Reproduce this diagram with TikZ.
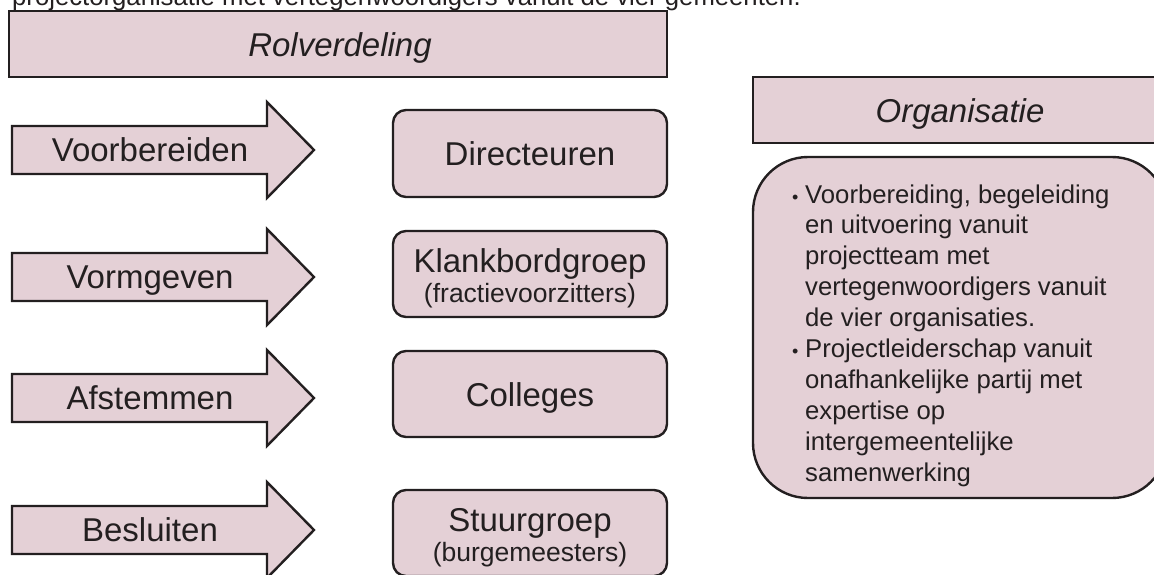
\documentclass[tikz,border=0pt]{standalone}
\usepackage{fontspec}
\setmainfont{Liberation Sans}
\definecolor{rose}{RGB}{228,208,214}
\definecolor{edge}{RGB}{35,31,32}
\definecolor{ink}{RGB}{35,31,32}

% role arrow: #1 name, #2 centre y, #3 label
\newcommand{\rolearrow}[3]{%
  \path[shape box] (12,{#2-24}) -- (267,{#2-24}) -- (267,{#2-48}) -- (314,#2)
     -- (267,{#2+48}) -- (267,{#2+24}) -- (12,{#2+24}) -- cycle;
  \node[biglbl] (#1) at (150,{#2+11.5}) {#3};
}

\begin{document}
\begin{tikzpicture}[x=1pt,y=-1pt,
  shape box/.style={draw=edge, line width=2.4pt, fill=rose, line join=miter},
  rolebox/.style={draw=edge, line width=2.4pt, fill=rose, rounded corners=13pt},
  biglbl/.style={anchor=base, inner sep=0pt, text=ink, font=\fontsize{33}{36}\selectfont},
  sublbl/.style={anchor=base, inner sep=0pt, text=ink, font=\fontsize{26.5}{29}\selectfont},
  headlbl/.style={anchor=base, inner sep=0pt, text=ink, font=\fontsize{33}{36}\selectfont\itshape},
  bodylbl/.style={anchor=base west, inner sep=0pt, text=ink, font=\fontsize{25.7}{30}\selectfont},
  bullet/.style={anchor=base west, inner sep=0pt, text=ink, font=\fontsize{18}{20}\selectfont}]
\useasboundingbox (0,0) rectangle (1154,574);
\clip (0,0) rectangle (1154,574);

% running text line above the figure
\node[bodylbl] (intro) at (12,5) {projectorganisatie met vertegenwoordigers vanuit de vier gemeenten.};

% left column header
\path[shape box] (9,11) rectangle (667,77);
\node[headlbl] (rolhead) at (340,56) {Rolverdeling};

% process arrows
\rolearrow{voorb}{150}{Voorbereiden}
\rolearrow{vorm}{277}{Vormgeven}
\rolearrow{afst}{398}{Afstemmen}
\rolearrow{besl}{530}{Besluiten}

% bodies
\path[rolebox] (393,110) rectangle (667,197);
\node[biglbl] (dir) at (530,165.5) {Directeuren};

\path[rolebox] (393,231) rectangle (667,317);
\node[biglbl] (klank) at (530,272) {Klankbordgroep};
\node[sublbl] (klanksub) at (530,302) {(fractievoorzitters)};

\path[rolebox] (393,351) rectangle (667,437);
\node[biglbl] (coll) at (530,406) {Colleges};

\path[rolebox] (393,490) rectangle (667,576);
\node[biglbl] (stuur) at (530,531) {Stuurgroep};
\node[sublbl] (stuursub) at (530,561) {(burgemeesters)};

% right column (runs past the right edge)
\path[shape box] (753,77) rectangle (1167,143);
\node[headlbl] (orghead) at (960,122) {Organisatie};

\path[shape box, rounded corners=55pt] (753,157) rectangle (1167,498);

\node[bullet] (b1) at (792,203) {•};
\node[bullet] (b2) at (792,{203+5*30.9}) {•};
\foreach \t [count=\i from 0] in {{Voorbereiding, begeleiding},{en uitvoering vanuit},
  {projectteam met},{vertegenwoordigers vanuit},{de vier organisaties.},
  {Projectleiderschap vanuit},{onafhankelijke partij met},{expertise op},
  {intergemeentelijke},{samenwerking}}
  \node[bodylbl] (line\i) at (805,{203+\i*30.9}) {\t};
\end{tikzpicture}
\end{document}
